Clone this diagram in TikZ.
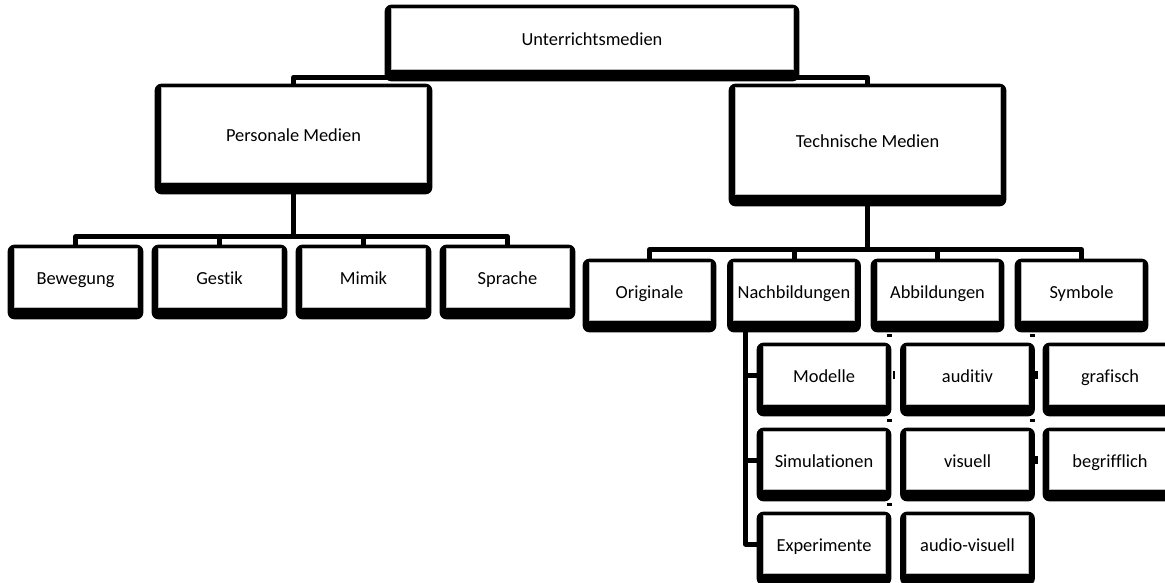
\documentclass[tikz,border=0pt]{standalone}
\usepackage{fontspec}
\setmainfont{Carlito}[Ligatures=NoCommon]
\usetikzlibrary{backgrounds}

\tikzset{
  medium/.style={draw=gray!55, line width=0.8pt, fill=white, inner sep=0pt,
                 text height=15pt, text depth=1pt,
                 minimum width=123pt, minimum height=59pt},
  conn/.style={line width=5pt, line join=round},
  stub/.style={line width=2.5pt},
}

\begin{document}
\begin{tikzpicture}[x=1pt,y=-1pt]
                        \useasboundingbox (0,0) rectangle (1165,582);
                        \clip (0,0) rectangle (1165,582);
                        {\fontsize{18.4}{22}\selectfont

                        % Top level
                        \node [medium, minimum width=402pt, minimum height=61pt] (unterricht) at (592.0,38.5) {Unterrichtsmedien};%
                        \node [medium, minimum width=265pt, minimum height=95pt] (personal) at (293.5,134.5) {Personale Medien};%
                        \node [medium, minimum width=265pt, minimum height=107pt] (technisch) at (867.5,140.5) {Technische Medien};%

                        % Personale Medien row
                        \node [medium] (bewegung) at (75.5,277.5) {Bewegung};%
                        \node [medium] (gestik) at (219.5,277.5) {Gestik};%
                        \node [medium] (mimik) at (363.5,277.5) {Mimik};%
                        \node [medium] (sprache) at (507.5,277.5) {Sprache};%

                        % Technische Medien row
                        \node [medium, minimum width=121pt, minimum height=58pt] (originale) at (649.5,291.0) {Originale};%
                        \node [medium, minimum width=121pt, minimum height=58pt] (nachbildungen) at (794.0,291.0) {Nachbildungen};%
                        \node [medium, minimum width=121pt, minimum height=58pt] (abbildungen) at (937.5,291.0) {Abbildungen};%
                        \node [medium, minimum width=121pt, minimum height=58pt] (symbole) at (1081.5,291.0) {Symbole};%

                        % Sub boxes
                        \node [medium, minimum width=122pt, minimum height=58pt] (modelle) at (824.0,375.0) {Modelle};%
                        \node [medium, minimum width=122pt, minimum height=58pt] (simulationen) at (824.0,460.0) {Simulationen};%
                        \node [medium, minimum width=122pt, minimum height=58pt] (experimente) at (824.0,544.0) {Experimente};%
                        \node [medium, minimum width=122pt, minimum height=58pt] (auditiv) at (967.5,375.0) {auditiv};%
                        \node [medium, minimum width=122pt, minimum height=58pt] (visuell) at (967.5,460.0) {visuell};%
                        \node [medium, minimum width=122pt, minimum height=58pt] (audiovisuell) at (967.5,544.0) {audio-visuell};%
                        \node [medium, minimum width=122pt, minimum height=58pt] (grafisch) at (1110.0,375.0) {grafisch};%
                        \node [medium, minimum width=122pt, minimum height=58pt] (begrifflich) at (1110.0,460.0) {begrifflich};%
                        }

                        \begin{scope}[on background layer]
                        % Drawing connectors from the top box
                        \draw [conn] ([shift={(0,8)}]unterricht.south west) -| (personal.north);%
                        \draw [conn] ([shift={(0,8)}]unterricht.south east) -| (technisch.north);%

                        % Drawing bar below Personale Medien
                        \coordinate (pbar) at ([shift={(0,-11)}]bewegung.north);
                        \draw [conn] (personal.south) -- (personal.south |- pbar);%
                        \foreach \c in {bewegung,gestik,mimik,sprache}
                          \draw [conn] (personal.south |- pbar) -| (\c.north);%

                        % Drawing bar below Technische Medien
                        \coordinate (tbar) at ([shift={(0,-12)}]originale.north);
                        \draw [conn] (technisch.south) -- (technisch.south |- tbar);%
                        \foreach \c in {originale,nachbildungen,abbildungen,symbole}
                          \draw [conn] (technisch.south |- tbar) -| (\c.north);%

                        % Drawing line from Nachbildungen
                        \coordinate (nx) at ([shift={(-17,0)}]modelle.west);
                        \draw [conn] (nachbildungen.south -| nx) |- (experimente.west);%
                        \draw [conn] (nx |- modelle.west) -- (modelle.west);%
                        \draw [conn] (nx |- simulationen.west) -- (simulationen.west);%

                        % Marks left of Abbildungen and Symbole children
                        \foreach \c in {auditiv,visuell,audiovisuell,grafisch,begrifflich}
                          \draw [stub] ([shift={(-19,-10)}]\c.north west) -- ++(5,0);%
                        \foreach \c in {auditiv,grafisch,begrifflich}
                          \draw [stub] ([shift={(-12,-4)}]\c.west) -- ++(0,8);%

                        % Black frames behind the boxes
                        \foreach \n in {unterricht,personal,technisch,bewegung,gestik,mimik,sprache,
                                        originale,nachbildungen,abbildungen,symbole,modelle,simulationen,
                                        experimente,auditiv,visuell,audiovisuell,grafisch,begrifflich}
                          \fill [rounded corners=7pt] ([shift={(-6,-3)}]\n.north west) rectangle ([shift={(6,12)}]\n.south east);%
                        \end{scope}
                    \end{tikzpicture}
\end{document}
